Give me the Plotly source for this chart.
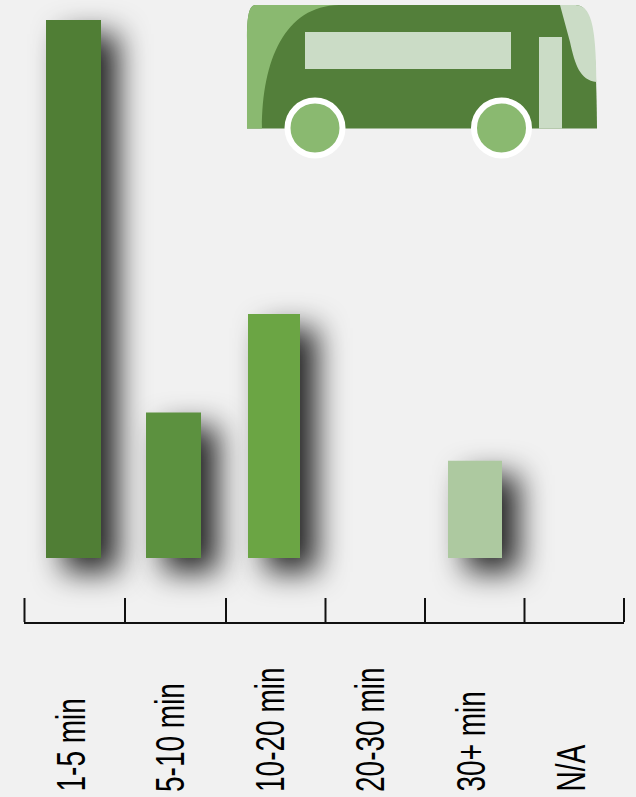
import plotly.graph_objects as go

categories = ["1-5 min", "5-10 min", "10-20 min", "20-30 min", "30+ min", "N/A"]
values = [52.5, 14.2, 23.8, 0, 9.5, 0]
bar_colors = ["#507e35", "#5c913f", "#6ba544", "#6ba544", "#adc9a0", "#adc9a0"]
bar_widths = [0.55, 0.55, 0.52, 0.52, 0.54, 0.54]
bar_offsets = [-0.28, -0.28, -0.26, -0.26, -0.26, -0.26]
tick_px = [24.5, 125, 226, 325.5, 425, 524.5, 624]

W, H = 636, 797
BG = "#f1f1f1"
DARK, LIGHT, PALE = "#537f3a", "#8ab970", "#cbdcc6"
AXIS = "#111111"


def px(x):
    return x / W


def py(y):
    return 1 - y / H


def path(cmds):
    out = []
    for c in cmds:
        nums = [px(v) if i % 2 == 0 else py(v) for i, v in enumerate(c[1:])]
        out.append(c[0] + " " + " ".join(f"{n:.5f}" for n in nums))
    return " ".join(out) + " Z"


def pshape(cmds, color):
    return dict(type="path", xref="paper", yref="paper", path=path(cmds),
                fillcolor=color, line=dict(width=0), layer="above")


def rect(x0, y0, x1, y1, color):
    return dict(type="rect", xref="paper", yref="paper", x0=px(x0), x1=px(x1), y0=py(y0), y1=py(y1),
                fillcolor=color, line=dict(width=0), layer="above")


def wheel(cx, cy, r):
    return dict(type="circle", xref="paper", yref="paper", x0=px(cx - r), x1=px(cx + r),
                y0=py(cy + r), y1=py(cy - r), fillcolor=LIGHT,
                line=dict(color="white", width=6), layer="above")


bus = [
    pshape([("M", 247, 128.5), ("L", 247, 40), ("C", 247, 15, 249, 5, 256, 5), ("L", 574, 5),
            ("C", 590, 5, 596, 18, 597, 128.5)], DARK),
    pshape([("M", 247, 128.5), ("L", 247, 40), ("C", 247, 15, 249, 5, 256, 5), ("L", 339, 5),
            ("C", 285, 6, 262, 60, 262, 128.5)], LIGHT),
    pshape([("M", 560, 5), ("L", 574, 5), ("C", 590, 5, 596, 20, 596.5, 82),
            ("C", 580, 80, 575, 65, 570, 42)], PALE),
    rect(305, 32, 511, 69, PALE),
    rect(539, 37, 562, 128.5, PALE),
    wheel(315, 128, 27.5),
    wheel(501.5, 128, 27.5),
]

ticks = [dict(type="line", xref="paper", yref="paper", x0=px(t), x1=px(t), y0=py(598), y1=py(622),
              line=dict(color=AXIS, width=2), layer="above") for t in tick_px]

fig = go.Figure(go.Bar(x=categories, y=values, marker=dict(color=bar_colors, line=dict(width=0)),
                       width=bar_widths, offset=bar_offsets, hoverinfo="skip"))

labels = [dict(x=c, xref="x", xshift=-4, y=py(794), yref="paper", yanchor="bottom", xanchor="center",
               text=c, textangle=-90, showarrow=False,
               font=dict(family="Liberation Sans", size=40, color="#000000"))
          for c in categories]

fig.update_layout(
    width=W, height=H, autosize=False, showlegend=False,
    margin=dict(l=0, r=0, t=0, b=0, pad=0),
    paper_bgcolor=BG, plot_bgcolor=BG,
    shapes=bus + ticks, annotations=labels,
    xaxis=dict(domain=[px(24), px(624)], type="category", categoryorder="array", categoryarray=categories,
               range=[-0.5, 5.5], ticks="", showline=True, linewidth=2, linecolor=AXIS,
               showticklabels=False, showgrid=False, zeroline=False),
    yaxis=dict(domain=[py(622), 1], range=[-6.24, 54.44], visible=False, showgrid=False, zeroline=False),
)

post = """
document.documentElement.style.margin='0';
document.body.style.margin='0';
document.body.style.background='#f1f1f1';
document.querySelectorAll('.bars .point path').forEach(function(p){
  p.style.filter='drop-shadow(17px 14px 15px rgba(0,0,0,0.85))';
});
document.querySelectorAll('.annotation-text').forEach(function(t){
  var L=t.getComputedTextLength(), k=0.70, n=L*k;
  t.setAttribute('textLength', n);
  t.setAttribute('lengthAdjust','spacingAndGlyphs');
  t.setAttribute('x', parseFloat(t.getAttribute('x'))-(L-n)/2);
});
"""
fig.write_html("out.html", post_script=post, config=dict(displayModeBar=False))
